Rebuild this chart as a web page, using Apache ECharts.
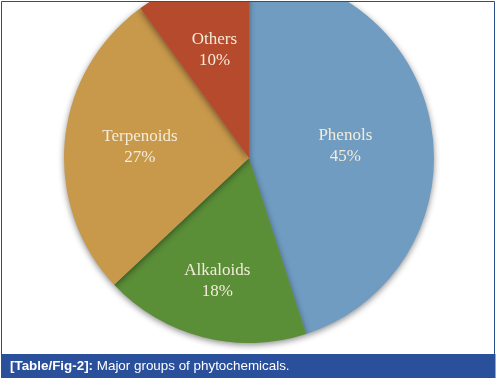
<!DOCTYPE html>
<html>
<head>
<meta charset="utf-8">
<script src="https://cdn.jsdelivr.net/npm/echarts@6/dist/echarts.min.js"></script>
<style>
html,body{margin:0;padding:0;background:#fff;}
#chart{width:497px;height:382px;}
</style>
</head>
<body>
<div id="chart"></div>
<script>
// Data
const categories = ['Phenols', 'Alkaloids', 'Terpenoids', 'Others'];
const percentages = [45, 18, 27, 10];
const captionBold = '[Table/Fig-2]:';
const captionText = 'Major groups of phytochemicals.';

// Styling (not data)
const sliceColors = ['#709cc2', '#5a8e37', '#c8984b', '#b64a2d'];
const labelOffsets = [[2, 3], [-8, 31], [-14, -2], [-5, -17]];

const chart = echarts.init(document.getElementById('chart'), null, {renderer: 'canvas'});

const pieData = categories.map((name, i) => ({
  name: name,
  value: percentages[i],
  itemStyle: {color: sliceColors[i]},
  label: {offset: labelOffsets[i]}
}));

chart.setOption({
  animation: false,
  backgroundColor: '#ffffff',
  series: [{
    type: 'pie',
    center: [249, 158],
    radius: 185,
    startAngle: 90,
    clockwise: true,
    silent: true,
    data: pieData,
    itemStyle: {
      borderWidth: 0,
      shadowBlur: 6,
      shadowColor: 'rgba(0,0,0,0.45)',
      shadowOffsetY: 2
    },
    label: {
      show: true,
      position: 'inside',
      formatter: p => p.name + '\n' + p.value + '%',
      color: '#f3ecda',
      fontFamily: '"Liberation Serif", "Times New Roman", serif',
      fontSize: 17,
      lineHeight: 21,
      align: 'center'
    },
    labelLine: {show: false}
  }],
  graphic: [
    {
      type: 'rect', z: 100,
      shape: {x: 0, y: 0, width: 497, height: 1.5},
      style: {fill: '#ffffff'}
    },
    {
      type: 'rect', z: 101,
      shape: {x: 1.5, y: 1.5, width: 493, height: 353},
      style: {fill: 'none', stroke: '#2c4d8c', lineWidth: 1}
    },
    {
      type: 'rect', z: 102,
      shape: {x: 1, y: 354, width: 494.5, height: 24},
      style: {fill: '#2a4f9b'}
    },
    {
      type: 'text', z: 103,
      x: 10, y: 366,
      style: {
        text: '{b|' + captionBold + '} {r|' + captionText + '}',
        verticalAlign: 'middle',
        rich: {
          b: {fontFamily: '"Liberation Sans", Arial, sans-serif', fontWeight: 'bold', fontSize: 13.4, fill: '#ffffff'},
          r: {fontFamily: '"Liberation Sans", Arial, sans-serif', fontSize: 13.4, fill: '#ffffff'}
        },
        fontFamily: '"Liberation Sans", Arial, sans-serif',
        fontSize: 13.4,
        fill: '#ffffff'
      }
    }
  ]
});
</script>
</body>
</html>
